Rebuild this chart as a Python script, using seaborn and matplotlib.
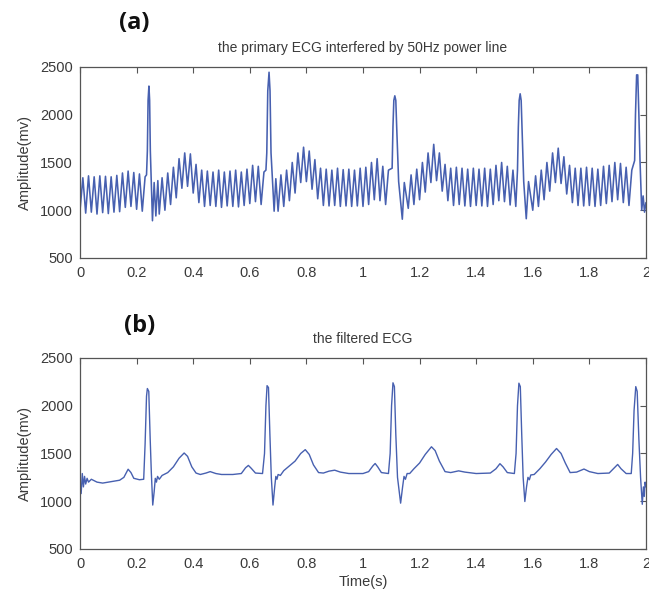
import matplotlib
matplotlib.use("Agg")
import numpy as np
import pandas as pd
import seaborn as sns
import matplotlib.pyplot as plt

# ---------------- data ----------------
x_ticks = [0, 0.2, 0.4, 0.6, 0.8, 1.0, 1.2, 1.4, 1.6, 1.8, 2.0]
x_tick_labels = ["0", "0.2", "0.4", "0.6", "0.8", "1", "1.2", "1.4", "1.6", "1.8", "2"]
y_ticks = [500, 1000, 1500, 2000, 2500]
y_tick_labels = ["500", "1000", "1500", "2000", "2500"]

title_a = "the primary ECG interfered by 50Hz power line"
title_b = "the filtered ECG"
y_label = "Amplitude(mv)"
x_label = "Time(s)"

# (a) raw ECG with 50 Hz interference: time (s)
t_raw = [0.00, 0.01, 0.02, 0.03, 0.04, 0.05, 0.06, 0.07, 0.08, 0.09, 0.10, 0.11,
         0.12, 0.13, 0.14, 0.15, 0.16, 0.17, 0.18, 0.19, 0.20, 0.21, 0.22, 0.23,
         0.235, 0.238, 0.2405, 0.2435, 0.246, 0.2485, 0.256,
         0.262, 0.268, 0.275, 0.28, 0.29, 0.30, 0.31, 0.32, 0.33, 0.34, 0.35, 0.36,
         0.37, 0.38, 0.39, 0.40, 0.41, 0.42, 0.43, 0.44, 0.45, 0.46, 0.47, 0.48,
         0.49, 0.50, 0.51, 0.52, 0.53, 0.54, 0.55, 0.56, 0.57, 0.58, 0.59, 0.60,
         0.61, 0.62, 0.63, 0.64, 0.65,
         0.657, 0.660, 0.6635, 0.668, 0.6715, 0.675, 0.686,
         0.692, 0.70, 0.71, 0.72, 0.73, 0.74, 0.75, 0.76, 0.77, 0.78, 0.79, 0.80,
         0.81, 0.82, 0.83, 0.84, 0.85, 0.86, 0.87, 0.88, 0.89, 0.90, 0.91, 0.92,
         0.93, 0.94, 0.95, 0.96, 0.97, 0.98, 0.99, 1.00, 1.01, 1.02, 1.03, 1.04,
         1.05, 1.06, 1.07, 1.08, 1.09,
         1.103, 1.106, 1.109, 1.1125, 1.116, 1.119, 1.126, 1.139,
         1.146, 1.16, 1.17, 1.18, 1.19, 1.20, 1.21, 1.22, 1.23, 1.24, 1.25, 1.26,
         1.27, 1.28, 1.29, 1.30, 1.31, 1.32, 1.33, 1.34, 1.35, 1.36, 1.37, 1.38,
         1.39, 1.40, 1.41, 1.42, 1.43, 1.44, 1.45, 1.46, 1.47, 1.48, 1.49, 1.50,
         1.51, 1.52, 1.53, 1.54,
         1.546, 1.549, 1.552, 1.5555, 1.559, 1.562, 1.568, 1.577,
         1.585, 1.60, 1.61, 1.62, 1.63, 1.64, 1.65, 1.66, 1.67, 1.68, 1.69, 1.70,
         1.71, 1.72, 1.73, 1.74, 1.75, 1.76, 1.77, 1.78, 1.79, 1.80, 1.81, 1.82,
         1.83, 1.84, 1.85, 1.86, 1.87, 1.88, 1.89, 1.90, 1.91, 1.92, 1.93, 1.94,
         1.95,
         1.960, 1.963, 1.967, 1.971, 1.975, 1.979, 1.985, 1.99, 1.995, 2.00]
# (a) raw ECG amplitude (mv)
v_raw = [1000, 1340, 970, 1360, 980, 1350, 960, 1360, 975, 1355, 965, 1350,
         980, 1365, 985, 1390, 1030, 1410, 1040, 1395, 1010, 1380, 990, 1350,
         1370, 1620, 2150, 2300, 2150, 1620, 890,
         1290, 940, 1310, 960, 1340, 1000, 1390, 1060, 1450, 1130, 1540, 1230,
         1600, 1250, 1590, 1180, 1480, 1080, 1420, 1040, 1410, 1050, 1400, 1040,
         1420, 1030, 1400, 1045, 1410, 1040, 1420, 1035, 1400, 1050, 1430, 1070,
         1470, 1090, 1460, 1060, 1400,
         1420, 1600, 2250, 2445, 2250, 1600, 990,
         1330, 990, 1370, 1040, 1420, 1100, 1500, 1180, 1600, 1290, 1660, 1300,
         1620, 1220, 1530, 1120, 1440, 1050, 1430, 1045, 1420, 1050, 1440, 1040,
         1425, 1045, 1430, 1040, 1420, 1045, 1440, 1040, 1450, 1060, 1500, 1110,
         1540, 1100, 1460, 1060, 1420,
         1440, 1880, 2150, 2198, 2150, 1880, 1300, 906,
         1290, 1020, 1370, 1060, 1430, 1110, 1500, 1190, 1600, 1290, 1690, 1310,
         1600, 1200, 1480, 1100, 1440, 1050, 1450, 1060, 1440, 1045, 1430, 1040,
         1440, 1050, 1430, 1045, 1440, 1040, 1430, 1060, 1470, 1100, 1500, 1090,
         1460, 1055, 1420, 1040,
         1420, 1870, 2150, 2219, 2150, 1870, 1300, 911,
         1300, 1000, 1360, 1040, 1420, 1110, 1500, 1200, 1600, 1290, 1650, 1280,
         1560, 1170, 1470, 1080, 1440, 1050, 1440, 1045, 1450, 1050, 1440, 1040,
         1430, 1050, 1460, 1070, 1470, 1090, 1500, 1110, 1490, 1080, 1450, 1050,
         1420,
         1520, 2000, 2417, 2417, 2000, 1520, 1000, 1150, 980, 1080]

# (b) filtered ECG: time (s)
t_filt = [0.000, 0.004, 0.008, 0.012, 0.016, 0.020, 0.025, 0.030, 0.040, 0.050,
          0.060, 0.080, 0.100, 0.120, 0.140, 0.155, 0.170, 0.180, 0.190, 0.210,
          0.225, 0.230, 0.235, 0.238, 0.243, 0.248, 0.252, 0.257, 0.262, 0.266,
          0.270, 0.274, 0.280, 0.290, 0.310, 0.330, 0.350, 0.368, 0.380, 0.395,
          0.410, 0.425, 0.445, 0.460, 0.480, 0.500, 0.540, 0.570, 0.585, 0.595,
          0.605, 0.620, 0.645, 0.652, 0.657, 0.661, 0.666, 0.671, 0.676, 0.682,
          0.688, 0.692, 0.696, 0.700, 0.708, 0.720, 0.740, 0.760, 0.780, 0.796,
          0.810, 0.825, 0.843, 0.860, 0.880, 0.900, 0.920, 0.950, 1.000, 1.020,
          1.035, 1.043, 1.052, 1.065, 1.090, 1.096, 1.101, 1.106, 1.111, 1.116,
          1.122, 1.133, 1.140, 1.145, 1.150, 1.156, 1.165, 1.180, 1.200, 1.220,
          1.242, 1.255, 1.270, 1.290, 1.310, 1.338, 1.360, 1.400, 1.450, 1.470,
          1.484, 1.495, 1.510, 1.535, 1.541, 1.546, 1.551, 1.556, 1.561, 1.566,
          1.572, 1.578, 1.583, 1.588, 1.593, 1.605, 1.625, 1.645, 1.665, 1.684,
          1.700, 1.715, 1.732, 1.755, 1.781, 1.800, 1.830, 1.870, 1.888, 1.900,
          1.912, 1.930, 1.948, 1.953, 1.958, 1.964, 1.969, 1.975, 1.981, 1.987,
          1.991, 1.994, 1.997, 2.000]
# (b) filtered ECG amplitude (mv)
v_filt = [1200, 1080, 1290, 1150, 1260, 1180, 1240, 1200, 1230, 1215,
          1200, 1190, 1200, 1210, 1220, 1250, 1335, 1300, 1240, 1225,
          1230, 1600, 2100, 2180, 2150, 1650, 1300, 960, 1100, 1240,
          1200, 1260, 1230, 1270, 1300, 1360, 1450, 1505, 1470, 1360,
          1295, 1280, 1295, 1310, 1290, 1280, 1280, 1290, 1350, 1375,
          1345, 1295, 1290, 1500, 2000, 2210, 2190, 1700, 1250, 960,
          1150, 1260, 1230, 1280, 1270, 1320, 1370, 1420, 1500, 1540,
          1490, 1380, 1300, 1295, 1315, 1325, 1305, 1290, 1290, 1310,
          1370, 1395, 1360, 1300, 1290, 1500, 2000, 2240, 2200, 1700,
          1250, 980, 1150, 1260, 1230, 1290, 1290, 1340, 1400, 1490,
          1570, 1530, 1420, 1310, 1300, 1318, 1305, 1290, 1295, 1340,
          1393, 1360, 1300, 1290, 1500, 2000, 2236, 2200, 1700, 1250,
          997, 1150, 1250, 1225, 1275, 1280, 1340, 1410, 1490, 1552,
          1500, 1400, 1300, 1305, 1337, 1310, 1290, 1295, 1350, 1385,
          1340, 1290, 1290, 1500, 1950, 2200, 2150, 1650, 1250, 968,
          1150, 1050, 1200, 1150]

# ---------------- style ----------------
LINE = "#4760b0"
TXT = "#3a3a3a"
SPINE = "#555555"

sns.set_theme(style="white")
plt.rcParams["font.family"] = ["Liberation Sans", "DejaVu Sans"]

fig = plt.figure(figsize=(6.49, 5.99), dpi=100)
ax1 = fig.add_axes([0.1233, 0.5693, 0.872, 0.3189])
ax2 = fig.add_axes([0.1233, 0.0835, 0.872, 0.3189])

df_raw = pd.DataFrame({"t": t_raw, "v": v_raw})
df_filt = pd.DataFrame({"t": t_filt, "v": v_filt})

sns.lineplot(data=df_raw, x="t", y="v", ax=ax1, color=LINE, linewidth=1.15,
             estimator=None, sort=False)
sns.lineplot(data=df_filt, x="t", y="v", ax=ax2, color=LINE, linewidth=1.0,
             estimator=None, sort=False)

for ax, title in [(ax1, title_a), (ax2, title_b)]:
    ax.set_xlim(0, 2)
    ax.set_ylim(500, 2500)
    ax.set_xticks(x_ticks)
    ax.set_xticklabels(x_tick_labels)
    ax.set_yticks(y_ticks)
    ax.set_yticklabels(y_tick_labels)
    ax.tick_params(axis="both", direction="in", top=True, right=True,
                   length=4, width=0.8, color=SPINE, labelcolor=TXT,
                   labelsize=10.5)
    ax.tick_params(axis="x", pad=6)
    ax.tick_params(axis="y", pad=5)
    for sp in ax.spines.values():
        sp.set_color(SPINE)
        sp.set_linewidth(0.9)
    ax.set_ylabel(y_label, fontsize=10.5, color=TXT, labelpad=6)
    ax.set_xlabel("")
    ax.set_title(title, fontsize=10, color=TXT, pad=11)

ax2.set_xlabel(x_label, fontsize=10.5, color=TXT, labelpad=3)

fig.text(134 / 649, 1 - 23 / 599, "(a)", fontsize=17, fontweight="bold",
         family=["Open Sans", "DejaVu Sans"], ha="center", va="center", color="#111111")
fig.text(140 / 649, 1 - 326 / 599, "(b)", fontsize=17, fontweight="bold",
         family=["Open Sans", "DejaVu Sans"], ha="center", va="center", color="#111111")

fig.savefig("out.png", dpi=100)
